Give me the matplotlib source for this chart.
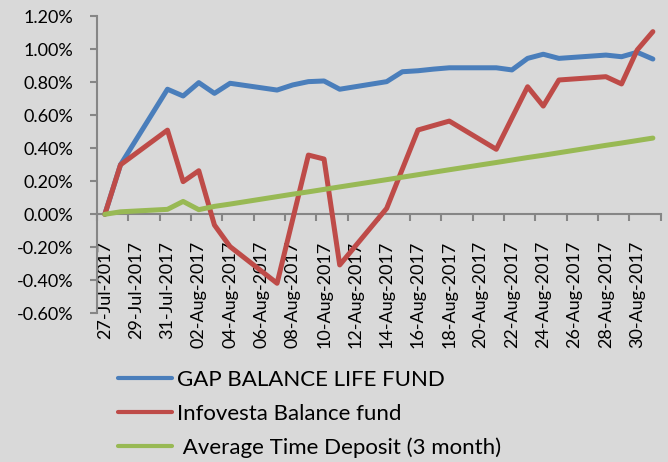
import matplotlib
matplotlib.use("Agg")
import matplotlib.pyplot as plt

plt.rcParams['font.family'] = ['Lato', 'DejaVu Sans']

# Trading dates (day offsets from 27-Jul-2017 give x positions)
dates = ["27-Jul-2017", "28-Jul-2017", "31-Jul-2017", "01-Aug-2017", "02-Aug-2017",
         "03-Aug-2017", "04-Aug-2017", "07-Aug-2017", "08-Aug-2017", "09-Aug-2017",
         "10-Aug-2017", "11-Aug-2017", "14-Aug-2017", "15-Aug-2017", "16-Aug-2017",
         "17-Aug-2017", "18-Aug-2017", "21-Aug-2017", "22-Aug-2017", "23-Aug-2017",
         "24-Aug-2017", "25-Aug-2017", "28-Aug-2017", "29-Aug-2017", "30-Aug-2017",
         "31-Aug-2017"]
day_offsets = [0, 1, 4, 5, 6, 7, 8, 11, 12, 13, 14, 15, 18, 19, 20, 21, 22,
               25, 26, 27, 28, 29, 32, 33, 34, 35]

gap_fund = [0.00, 0.30, 0.758, 0.717, 0.798, 0.733, 0.794, 0.753, 0.784, 0.804,
            0.808, 0.758, 0.804, 0.864, 0.870, 0.880, 0.888, 0.888, 0.875, 0.945,
            0.970, 0.945, 0.965, 0.955, 0.982, 0.941]
infovesta = [0.00, 0.30, 0.510, 0.198, 0.264, -0.065, -0.196, -0.418, -0.030, 0.359,
             0.335, -0.307, 0.036, 0.274, 0.511, 0.538, 0.565, 0.394, 0.584, 0.773,
             0.656, 0.814, 0.834, 0.790, 0.996, 1.107]
time_deposit = [0.000, 0.015, 0.030, 0.078, 0.028, 0.048, 0.062, 0.107, 0.122, 0.136,
                0.151, 0.166, 0.210, 0.225, 0.240, 0.255, 0.270, 0.314, 0.329, 0.344,
                0.358, 0.373, 0.418, 0.432, 0.447, 0.462]

series_names = ["GAP BALANCE LIFE FUND", "Infovesta Balance fund",
                " Average Time Deposit (3 month)"]
series_colors = ["#4a7ebb", "#be4b48", "#98b954"]

xtick_labels = ["27-Jul-2017", "29-Jul-2017", "31-Jul-2017", "02-Aug-2017",
                "04-Aug-2017", "06-Aug-2017", "08-Aug-2017", "10-Aug-2017",
                "12-Aug-2017", "14-Aug-2017", "16-Aug-2017", "18-Aug-2017",
                "20-Aug-2017", "22-Aug-2017", "24-Aug-2017", "26-Aug-2017",
                "28-Aug-2017", "30-Aug-2017"]
ytick_values = [-0.6, -0.4, -0.2, 0.0, 0.2, 0.4, 0.6, 0.8, 1.0, 1.2]
ytick_labels = ["-0.60%", "-0.40%", "-0.20%", "0.00%", "0.20%", "0.40%",
                "0.60%", "0.80%", "1.00%", "1.20%"]

bg = "#d9d9d9"
axis_gray = "#868686"

fig = plt.figure(figsize=(6.68, 4.62), dpi=100, facecolor=bg)
ax = fig.add_axes([97/668, 1 - 313.3/462, (660.7 - 97)/668, (313.3 - 16.3)/462])
ax.set_facecolor(bg)

lines = []
for vals, name, col in zip([gap_fund, infovesta, time_deposit], series_names, series_colors):
    ln, = ax.plot(day_offsets, vals, color=col, lw=3.6, label=name,
                  solid_joinstyle='round', solid_capstyle='round', zorder=3)
    lines.append(ln)

ax.set_xlim(-0.5, 35.5)
ax.set_ylim(-0.6, 1.2)

for s in ['top', 'right']:
    ax.spines[s].set_visible(False)
ax.spines['left'].set_color(axis_gray)
ax.spines['left'].set_linewidth(1.5)
ax.spines['bottom'].set_color(axis_gray)
ax.spines['bottom'].set_linewidth(1.5)
ax.spines['bottom'].set_position(('data', 0))

ax.set_yticks(ytick_values)
ax.set_yticklabels(ytick_labels, fontsize=13, color="#000000")
ax.tick_params(axis='y', length=5, width=1.5, color=axis_gray, pad=12)

label_pos = list(range(0, 36, 2))
ax.set_xticks(label_pos)
ax.set_xticklabels(xtick_labels, rotation=90, fontsize=13, color="#000000")
ax.tick_params(axis='x', which='major', length=0, pad=19)
ax.set_xticks([p - 0.5 for p in range(0, 37, 2)], minor=True)
ax.tick_params(axis='x', which='minor', length=5, width=1.5, color=axis_gray)

leg = fig.legend(handles=lines, loc='upper left',
                 bbox_to_anchor=(118/668, 1 - 370/462), frameon=False,
                 fontsize=16, handlelength=2.45, handletextpad=0.2,
                 labelspacing=0.62, borderpad=0, borderaxespad=0)
for h in leg.legend_handles:
    h.set_linewidth(3.0)

fig.savefig("out.png", dpi=100, facecolor=bg)
